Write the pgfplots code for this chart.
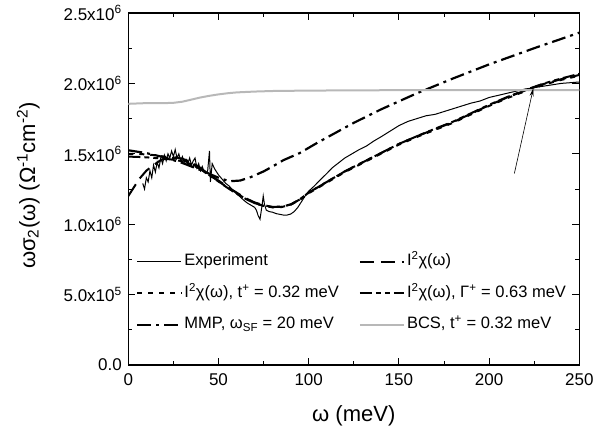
\documentclass[border=0pt]{standalone}
\usepackage{fontspec}
\setmainfont{Liberation Sans}
\usepackage{pgfplots}
\pgfplotsset{compat=1.18}
\usetikzlibrary{arrows.meta}

\begin{document}
\begin{tikzpicture}
\useasboundingbox (-128.3pt,-66pt) rectangle (486.7pt,365pt);
\begin{axis}[
  at={(0,0)}, anchor=south west,
  width=451pt, height=352pt, scale only axis,
  xmin=0, xmax=250, ymin=0, ymax=2.5,
  xtick={0,50,100,150,200,250},
  ytick={0,0.5,1,1.5,2,2.5},
  yticklabels={0.0, 5.0x10\textsuperscript{5}, 1.0x10\textsuperscript{6}, 1.5x10\textsuperscript{6}, 2.0x10\textsuperscript{6}, 2.5x10\textsuperscript{6}},
  minor x tick num=1, minor y tick num=1,
  tick align=inside,
  major tick length=7pt, minor tick length=4pt,
  every tick/.style={black, line width=0.9pt},
  axis line style={line width=1.1pt},
  /pgf/number format/assume math mode=true,
  tick label style={font=\fontsize{17}{20}\selectfont},
  xticklabel style={yshift=-5pt},
  yticklabel style={xshift=-3pt},
  xlabel={ω (meV)},
  ylabel={ωσ\textsubscript{2}(ω) (Ω\textsuperscript{-1}cm\textsuperscript{-2})},
  label style={font=\fontsize{22}{26}\selectfont},
  x label style={at={(axis description cs:0.5,-0.145)}, anchor=center},
  y label style={at={(axis description cs:-0.222,0.51)}, anchor=center, rotate=0},
  legend columns=2,
  legend cell align=left,
  legend image code/.code={\draw[#1] (0cm,0cm) -- (1.55cm,0cm);},
  legend style={draw=none, fill=none, at={(axis description cs:0.017,0.322)}, anchor=north west,
    inner sep=0pt, row sep=12pt,
    font=\fontsize{16.5}{19}\selectfont,
    nodes={inner sep=2pt, text height=12pt, text depth=3.5pt},
    /tikz/every even column/.append style={column sep=18pt}},
]
% Experiment
\addplot[black, line width=1pt] coordinates {
(8,1.29) (9,1.25) (10,1.33) (11,1.30) (12,1.38) (13,1.33) (14,1.42) (15,1.37) (16,1.44) (17,1.40)
(18,1.47) (19,1.43) (20,1.49) (21,1.45) (22,1.50) (23,1.47) (24,1.52) (25,1.48) (26,1.53) (27,1.47)
(28,1.50) (29,1.45) (30,1.48) (31,1.44) (32,1.46) (33,1.43) (34,1.47) (35,1.42) (36,1.45) (37,1.47)
(38,1.40) (39,1.43) (40,1.38) (41,1.41) (42,1.37) (43,1.36) (44,1.38) (45,1.52) (45.5,1.30) (46.5,1.43)
(48,1.39) (50,1.35) (52,1.32) (54,1.29) (56,1.27) (58,1.24) (60,1.215) (62,1.195) (64,1.17) (66,1.15)
(68,1.135) (70,1.12) (71,1.10) (72,1.06) (73,1.035) (74,1.12) (74.8,1.20) (75.5,1.14) (76.5,1.10) (78,1.09)
(80,1.085) (82,1.075) (84,1.07) (86,1.065) (88,1.065) (90,1.072) (92,1.09) (94,1.12) (96,1.16) (98,1.20)
(100,1.235) (103,1.27) (106,1.31) (110,1.36) (113,1.40) (116,1.43) (120,1.47) (124,1.50) (128,1.53) (132,1.555)
(136,1.59) (140,1.62) (145,1.66) (150,1.70) (155,1.73) (160,1.75) (165,1.77) (170,1.78) (175,1.80) (180,1.82)
(185,1.84) (190,1.86) (195,1.875) (200,1.90) (205,1.915) (210,1.93) (215,1.945) (220,1.96) (225,1.97) (230,1.98)
(235,1.99) (240,2.00) (245,2.005) (250,2.01)
};
\addlegendentry{Experiment}
% I^2 chi dashed
\addplot[black, line width=2pt, dash pattern=on 14pt off 7pt] coordinates {
(0,1.20) (3,1.26) (6,1.32) (10,1.38) (14,1.42) (18,1.455) (22,1.47) (26,1.475) (30,1.465) (35,1.44)
(40,1.40) (45,1.35) (50,1.31) (55,1.265) (60,1.225) (65,1.185) (70,1.155) (75,1.135) (80,1.123) (85,1.125)
(90,1.14) (95,1.175) (100,1.225) (110,1.30) (120,1.375) (130,1.44) (140,1.505) (150,1.57) (160,1.625) (170,1.675)
(180,1.725) (190,1.785) (200,1.845) (210,1.90) (220,1.95) (230,1.995) (240,2.03) (250,2.06)
};
\addlegendentry{I\textsuperscript{2}χ(ω)}
% dotted t+
\addplot[black, line width=2pt, dash pattern=on 5pt off 6pt] coordinates {
(0,1.50) (5,1.50) (10,1.495) (15,1.49) (20,1.48) (25,1.47) (30,1.455) (35,1.43) (40,1.395) (45,1.35)
(50,1.305) (55,1.26) (60,1.22) (65,1.18) (70,1.15) (75,1.13) (80,1.12) (85,1.122) (90,1.138) (95,1.172)
(100,1.22) (110,1.295) (120,1.37) (130,1.435) (140,1.50) (150,1.565) (160,1.62) (170,1.67) (180,1.72) (190,1.78)
(200,1.84) (210,1.895) (220,1.945) (230,1.99) (240,2.025) (250,2.055)
};
\addlegendentry{I\textsuperscript{2}χ(ω), t\textsuperscript{+} = 0.32 meV}
% dash-dot-dot Gamma+
\addplot[black, line width=2pt, dash pattern=on 12pt off 4pt on 5pt off 4pt on 5pt off 4pt] coordinates {
(0,1.48) (5,1.478) (10,1.475) (15,1.47) (20,1.465) (25,1.458) (30,1.447) (35,1.425) (40,1.39) (45,1.348)
(50,1.303) (55,1.258) (60,1.218) (65,1.18) (70,1.15) (75,1.13) (80,1.121) (85,1.124) (90,1.14) (95,1.176)
(100,1.224) (110,1.30) (120,1.375) (130,1.44) (140,1.505) (150,1.57) (160,1.625) (170,1.678) (180,1.728) (190,1.788)
(200,1.848) (210,1.903) (220,1.953) (230,1.998) (240,2.035) (250,2.068)
};
\addlegendentry{I\textsuperscript{2}χ(ω), Γ\textsuperscript{+} = 0.63 meV}
% MMP dash-dot
\addplot[black, line width=2.2pt, dash pattern=on 14pt off 5pt on 3pt off 5pt] coordinates {
(0,1.525) (10,1.505) (20,1.475) (30,1.435) (40,1.385) (50,1.33) (56,1.305) (62,1.31) (68,1.335) (75,1.375)
(80,1.41) (86,1.455) (95,1.505) (105,1.58) (115,1.65) (125,1.72) (140,1.815) (160,1.93) (180,2.035) (200,2.135)
(225,2.25) (250,2.36)
};
\addlegendentry{MMP, ω\textsubscript{SF} = 20 meV}
% BCS gray
\addplot[black!28, line width=2pt] coordinates {
(0,1.855) (10,1.86) (20,1.86) (25,1.862) (30,1.87) (35,1.885) (40,1.90) (45,1.912) (50,1.922) (55,1.93)
(60,1.936) (70,1.942) (80,1.946) (100,1.949) (150,1.952) (250,1.953)
};
\addlegendentry{BCS, t\textsuperscript{+} = 0.32 meV}
\draw[black, line width=0.6pt, -{Stealth[length=8pt,width=4pt]}] (axis cs:214,1.36) -- (axis cs:224.5,1.965);
\end{axis}
\end{tikzpicture}
\end{document}
